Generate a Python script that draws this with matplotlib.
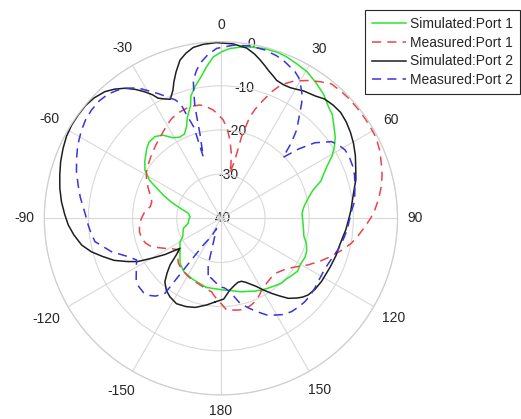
import numpy as np
import matplotlib
matplotlib.use("Agg")
import matplotlib.pyplot as plt

plt.rcParams['font.family'] = ['Liberation Sans', 'DejaVu Sans']

# radiation patterns, angle in degrees (clockwise from broadside), gain in dB
sim_p1_ang = [-168, -155, -145, -138, -132, -127.7, -120, -115.6, -105, -98.7, -93, -87, -81, -76, -72, -68,
              -62, -57.5, -53.3, -47, -43.5, -39, -35, -31, -27, -23.4, -20.5, -18.5, -17, -15, -13.8, -11,
              -8.5, -5.5, -2.7, 0.5, 3, 5.8, 8.5, 14.5, 19, 22, 26, 30.5, 35, 39.5, 44.3, 47, 49, 54.5,
              57.5, 60.5, 64, 67, 69.5, 73, 78, 82, 86.5, 93, 98, 102, 106.5, 111, 115, 120, 124.6, 129,
              133, 137, 142, 147, 151, 155, 160, 164.3, 170, 174, 177]
sim_p1_db = [-24.0, -24.8, -25.3, -26.2, -27.5, -28.3, -29.3, -30.4, -31.2, -32.5, -32.7, -33.0, -32.5, -30.5, -28.2, -25.9,
             -21.7, -19.6, -18.5, -17.0, -16.3, -16.2, -17.0, -18.7, -19.4, -19.2, -17.8, -16.0, -15.0, -13.5, -11.5, -9.5,
             -8.0, -5.6, -3.4, -2.2, -1.5, -1.1, -0.7, -0.3, -0.3, -0.5, -1.0, -1.5, -2.5, -3.5, -5.0, -5.5, -6.3, -8.2,
             -9.5, -11.0, -13.3, -14.8, -15.8, -18.2, -20.0, -21.0, -21.6, -21.4, -21.1, -20.8, -19.8, -19.2, -19.0, -19.2, -18.9, -19.4,
             -19.8, -19.9, -20.5, -21.0, -21.4, -21.8, -22.4, -22.7, -23.3, -23.6, -23.7]

meas_p1_ang = [-175.6, -172.8, -167, -162.5, -155, -148.8, -142, -136.5, -131, -126.6, -122, -118.2, -115,
               -112.3, -108, -104.2, -99.5, -94.7, -90, -85, -80.5, -76.5, -72, -67.6, -62.5, -57.9, -52.5,
               -47.6, -41.5, -35.5, -30.5, -26.2, -21.5, -17.3, -14, -10.5, -7.5, -4.1, -1.5, 1.3, 4, 6.6,
               9, 10.5, 11.3, 13.5, 14.2, 15.9, 17.5, 19.7, 22, 24.3, 28, 32, 35.9, 39.4, 43.6, 47.1, 51,
               55.4, 59, 62.6, 67, 71.1, 75, 78.9, 83, 86.9, 90, 93.3, 97, 100.8, 105, 109.1, 113.5, 118.1,
               122, 126.6, 130, 134, 139.8, 145, 150.4, 154, 157.8, 161.5, 165.1, 168.3, 172, 176.4]
meas_p1_db = [-22.2, -23.2, -23.8, -24.2, -24.6, -25.0, -25.5, -26.0, -27.0, -28.0, -27.0, -25.6, -24.3,
              -23.0, -22.0, -21.5, -21.3, -21.5, -22.0, -22.7, -23.8, -23.9, -23.2, -22.2, -21.0, -20.1, -19.4,
              -18.7, -17.8, -16.8, -15.7, -14.8, -14.2, -13.9, -13.8, -13.9, -14.5, -15.4, -16.5, -17.7, -19.6, -22.2,
              -25.0, -27.5, -29.6, -26.4, -20.9, -16.1, -14.0, -11.6, -9.0, -6.8, -4.8, -3.2, -1.8, -0.6, -0.4, -0.3, -0.3,
              -0.3, -0.35, -0.4, -0.9, -1.6, -2.2, -3.0, -4.0, -5.1, -6.1, -7.3, -8.6, -9.9, -11.8, -13.6, -15.6, -17.6,
              -19.4, -21.0, -21.7, -22.3, -22.4, -22.0, -21.3, -20.4, -19.6, -19.1, -18.8, -18.8, -19.0, -19.2]

sim_p2_ang = [-176, -170.6, -164, -158.5, -152.5, -147, -143, -138.6, -135.5, -132.5, -129.6, -126.2, -123,
              -120, -117.5, -115, -111.5, -107.8, -104.5, -100.9, -96.5, -92.5, -88.5, -84.1, -79.5, -74.9,
              -70.5, -66.1, -62, -58, -54, -50.2, -46.5, -42.5, -39.5, -36.4, -33.5, -31, -29, -27.6, -25,
              -23, -20.5, -19, -17, -14.5, -12, -9.2, -5.8, -1.5, 4, 8.6, 11.5, 13.8, 16, 18, 20, 22, 25,
              28, 30, 33, 37.7, 41, 44.8, 48.5, 52.5, 56.5, 60.5, 65, 70, 74, 78.1, 82, 86.4, 90, 95.3, 100,
              104, 107.9, 114, 122, 127, 131.3, 134, 136.5, 139.9, 143, 146, 149.5, 152.5, 156, 159, 162,
              165, 168, 173, 178]
sim_p2_db = [-21.0, -20.1, -19.0, -18.5, -18.2, -18.8, -19.5, -20.8, -22.6, -24.4, -26.8, -28.5, -25.0,
             -21.9, -18.8, -16.8, -14.0, -11.8, -9.7, -7.9, -6.5, -5.4, -4.6, -3.7, -2.9, -2.2,
             -1.5, -0.9, -0.4, -0.15, -0.1, -0.1, -0.4, -1.1, -2.1, -3.4, -5.0, -6.6, -8.0, -9.3, -10.2,
             -10.7, -9.0, -7.3, -5.3, -3.0, -1.8, -0.8, -0.4, -0.2, -0.4, -1.0, -2.0, -3.0, -4.0, -4.9, -5.6, -6.3, -6.6,
             -6.5, -6.2, -5.6, -5.0, -4.2, -3.9, -3.8, -4.2, -4.8, -5.5, -6.4, -7.5, -8.2, -9.2, -9.9, -10.5, -11.0, -11.6, -12.2,
             -12.5, -12.6, -12.9, -13.1, -13.3, -13.7, -14.3, -15.1, -16.3, -18.0, -19.5, -21.2, -22.6, -23.7, -24.5, -25.0,
             -25.0, -24.6, -23.6, -21.7]

meas_p2_ang = [-167.4, -164.8, -163.3, -156.7, -152.4, -146.8, -144.6, -143.3, -140, -137.2, -134, -130,
               -126.9, -122, -116.3, -112.5, -107, -100.5, -96.5, -92.9, -89, -85.8, -81.5, -76.9, -72,
               -67.4, -63, -58, -54, -50.3, -46, -42.3, -39, -35.7, -32.5, -29.4, -26.5, -23.4, -21.2,
               -19.4, -18.4, -16.5, -16, -13.9, -13.1, -12.2, -11.3, -9.5, -7.7, -4.5, -1.4, 4.1, 9.5,
               14.7, 19, 22.2, 26.8, 29, 31.1, 33, 35, 38.7, 40.5, 43, 45.6, 48.2, 51.2, 55.3, 58.5, 61.2,
               65, 68.7, 72.1, 76.7, 82.9, 86.4, 90, 95.3, 100, 104.7, 110, 115.7, 121, 126.7, 130.5, 134.8,
               139, 142.9, 147, 150.8, 154.7, 159.1, 163, 167.4, 170, 173, 177, 180.8]
meas_p2_db = [-26.8, -29.0, -33.3, -37.5, -35.4, -32.9, -28.2, -18.8, -17.0, -16.2, -15.7, -15.8,
              -16.0, -17.4, -18.7, -17.3, -14.1, -11.0, -10.4, -9.9, -9.4, -8.8, -7.8, -6.8, -5.6,
              -4.6, -3.6, -2.7, -2.1, -1.8, -1.7, -2.0, -2.7, -3.7, -5.0, -6.9, -8.5, -10.2, -11.2,
              -12.4, -15.2, -18.5, -25.5, -20.2, -14.1, -11.0, -8.1, -6.2, -4.6, -2.8, -1.5, -0.7, -0.4,
              -0.6, -1.1, -1.7, -2.8, -3.6, -5.0, -6.3, -8.1, -12.0, -13.5, -16.6, -20.3, -16.5, -12.7, -9.5, -8.5, -7.9,
              -7.8, -7.9, -8.2, -8.8, -9.5, -10.3, -10.8, -11.3, -11.9, -12.5, -13.3, -13.8, -13.8, -13.5, -13.3, -13.2,
              -13.3, -13.5, -14.0, -14.9, -15.8, -17.4, -18.8, -20.3, -21.8, -23.3, -24.2, -24.5]

r_ticks = [-40, -30, -20, -10, 0]
theta_ticks = list(range(0, 360, 30))
theta_labels = ['0', '30', '60', '90', '120', '150', '180', '-150', '-120', '-90', '-60', '-30']

series = [
    (sim_p1_ang, sim_p1_db, 'Simulated:Port 1', '#2ae62a', '-'),
    (meas_p1_ang, meas_p1_db, 'Measured:Port 1', '#e8454a', (0, (6, 4))),
    (sim_p2_ang, sim_p2_db, 'Simulated:Port 2', '#1e1e1e', '-'),
    (meas_p2_ang, meas_p2_db, 'Measured:Port 2', '#3535dc', (0, (6, 4))),
]

txt_col = '#262626'
grid_col = '#d9d9d9'

fig = plt.figure(figsize=(5.21, 4.19), dpi=100)
ax = fig.add_axes([0.085, 0.0573, 0.678, 0.8434], projection='polar')
ax.set_theta_zero_location('N')
ax.set_theta_direction(-1)
ax.set_ylim(-40, 0)

for ang, db, name, col, ls in series:
    # close the loop, keeping the angle continuous
    a = np.deg2rad(np.r_[ang, ang[0] + 360])
    r = np.r_[db, db[0]]
    ax.plot(a, r, color=col, lw=1.1, linestyle=ls, label=name)

ax.set_xticks(np.deg2rad(theta_ticks))
ax.set_xticklabels([])
ax.set_yticks(r_ticks)
ax.set_yticklabels([])

# angle labels sit a fixed gap outside the rim, measured to the nearest text edge
renderer = fig.canvas.get_renderer()
gap = 9.5
for deg, lab in zip(theta_ticks, theta_labels):
    t = ax.annotate(lab, xy=(np.deg2rad(deg), 0), xytext=(0, 0), textcoords='offset pixels',
                    ha='center', va='center', fontsize=10, color=txt_col, annotation_clip=False)
    bb = t.get_window_extent(renderer)
    s, c = np.sin(np.deg2rad(deg)), np.cos(np.deg2rad(deg))
    d = gap + abs(s) * bb.width / 2 + abs(c) * bb.height / 2
    t.set_position((d * s, d * c))

for rv in r_ticks:
    ax.text(np.deg2rad(10), rv, str(rv), fontsize=10, color=txt_col,
            ha='center', va='center', zorder=1)

ax.grid(True, color=grid_col, lw=0.8)
ax.spines['polar'].set_color('#cfcfcf')
ax.spines['polar'].set_linewidth(0.9)

leg = ax.legend(loc='upper right', bbox_to_anchor=(0.998, 0.976), bbox_transform=fig.transFigure,
                fontsize=10, frameon=True, fancybox=False, framealpha=1, borderaxespad=0,
                handlelength=2.45, handletextpad=0.25, labelspacing=0.34, borderpad=0.5)
leg.get_frame().set_edgecolor('#262626')
leg.get_frame().set_linewidth(0.8)
for t in leg.get_texts():
    t.set_color(txt_col)

fig.savefig('out.png', dpi=100)
